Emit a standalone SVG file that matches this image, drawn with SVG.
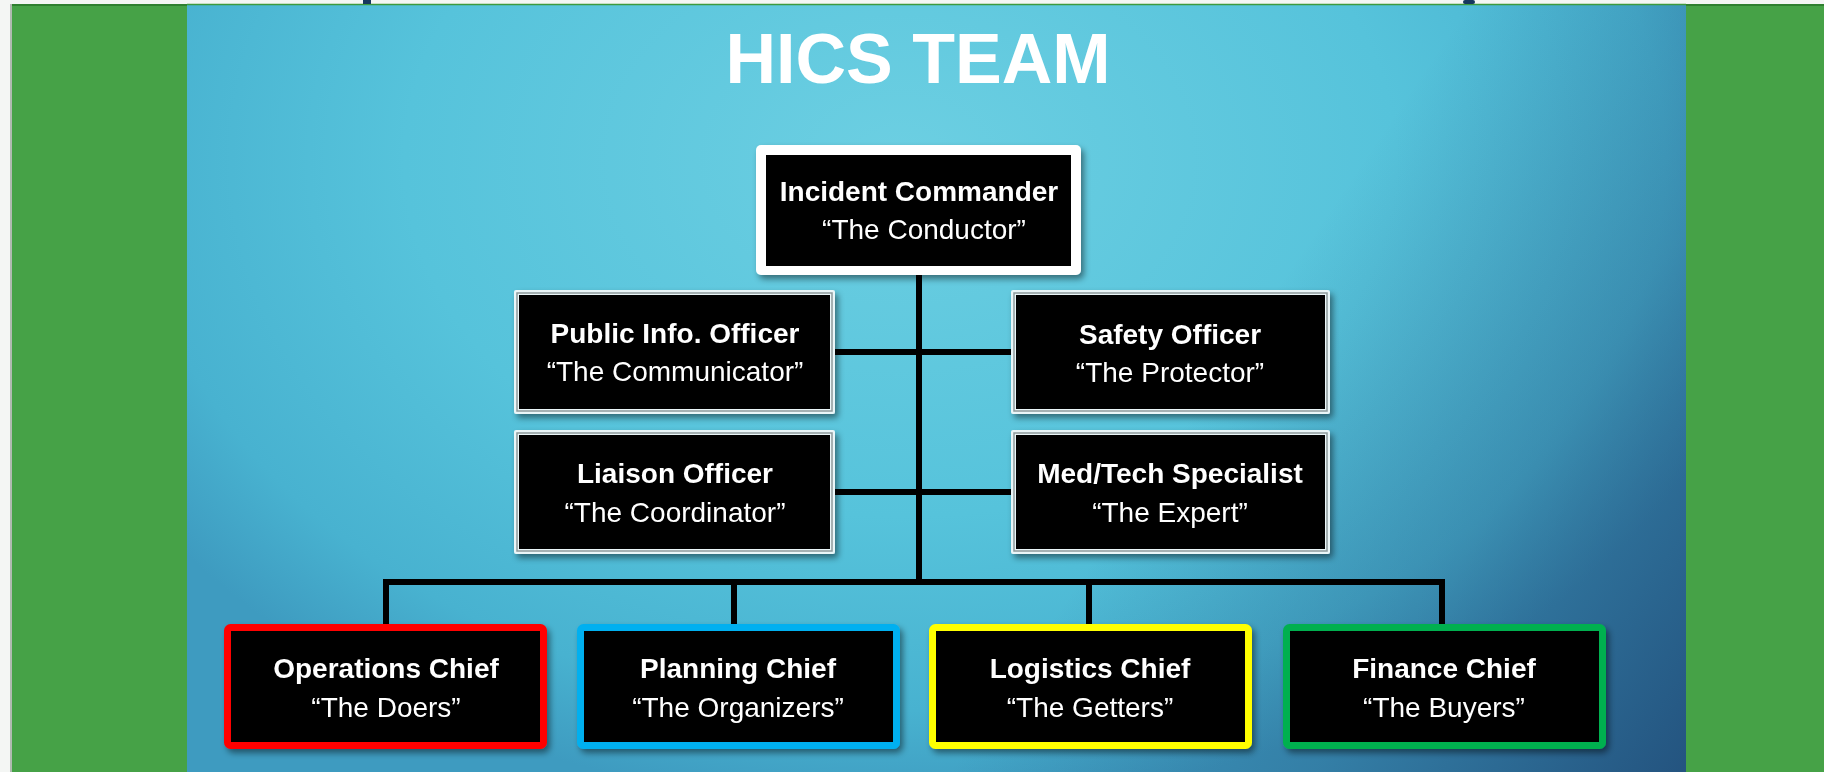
<svg xmlns="http://www.w3.org/2000/svg" width="1824" height="772" viewBox="0 0 1824 772">
  <defs>
    <radialGradient id="panelGlow" gradientUnits="userSpaceOnUse" cx="900" cy="160" r="900" gradientTransform="translate(900 160) scale(1 0.72) translate(-900 -160)">
      <stop offset="0" stop-color="#6CCFE2"/>
      <stop offset="0.55" stop-color="#56C3DB"/>
      <stop offset="0.85" stop-color="#48B2D0"/>
      <stop offset="1" stop-color="#3E9BC0"/>
    </radialGradient>
    <linearGradient id="panelShade" gradientUnits="userSpaceOnUse" x1="1180" y1="430" x2="1686" y2="772">
      <stop offset="0" stop-color="#1B3C6A" stop-opacity="0"/>
      <stop offset="0.5" stop-color="#1B3C6A" stop-opacity="0.3"/>
      <stop offset="1" stop-color="#1B3C6A" stop-opacity="0.75"/>
    </linearGradient>
    <filter id="shadow" x="-10%" y="-10%" width="125%" height="130%">
      <feDropShadow dx="3" dy="4" stdDeviation="3" flood-color="#000" flood-opacity="0.45"/>
    </filter>
  </defs>
  <style>
    .title { font-family: "Liberation Sans", Arial, sans-serif; font-weight: bold; font-size: 70px; fill: #FFFFFF; text-anchor: middle; }
    .name { font-family: "Liberation Sans", Arial, sans-serif; font-weight: bold; font-size: 28px; fill: #FFFFFF; text-anchor: middle; }
    .nick { font-family: "Liberation Sans", Arial, sans-serif; font-size: 28px; fill: #FFFFFF; text-anchor: middle; }
    .wire { fill: none; stroke: #000000; stroke-width: 6; stroke-linecap: square; stroke-linejoin: miter; }
    .body { fill: #000000; }
    .bevel-out { fill: #EAF6F8; }
    .bevel-mid { fill: none; stroke: #8E9A9C; stroke-width: 1.5; }
    .chief { stroke-width: 7; }
  </style>

  <!-- page and side bands -->
  <rect x="0" y="0" width="1824" height="772" fill="#F4F6F4"/>
  <rect x="12" y="4" width="1812" height="768" fill="#46A247"/>
  <line x1="11" y1="4" x2="11" y2="772" stroke="#9AA69A" stroke-width="1.5"/>
  <rect x="12" y="4" width="1812" height="2" fill="#2F8030"/>

  <!-- slide panel -->
  <rect x="187" y="5" width="1499" height="767" fill="url(#panelGlow)"/>
  <rect x="187" y="5" width="1499" height="767" fill="url(#panelShade)"/>
  <line x1="187" y1="4.5" x2="1686" y2="4.5" stroke="#3C9A3E" stroke-width="1.5"/>

  <!-- stubs of the heading strokes at the top edge -->
  <rect x="363" y="0" width="8" height="4" fill="#17375E"/>
  <rect x="1463" y="0" width="12" height="4" rx="2" fill="#17375E"/>

  <text class="title" x="918" y="83">HICS TEAM</text>

  <!-- connectors -->
  <g id="connectors">
    <line class="wire" x1="919" y1="266" x2="919" y2="582"/>
    <line class="wire" x1="835" y1="352" x2="1011" y2="352"/>
    <line class="wire" x1="835" y1="492" x2="1011" y2="492"/>
    <polyline class="wire" points="386,624 386,582 1442,582 1442,624"/>
    <line class="wire" x1="734" y1="582" x2="734" y2="624"/>
    <line class="wire" x1="1089" y1="582" x2="1089" y2="624"/>
  </g>

  <!-- incident commander -->
  <g id="commander" filter="url(#shadow)">
    <rect x="756" y="145" width="325" height="130" rx="5" fill="#FFFFFF"/>
    <rect x="766" y="155" width="305" height="111" class="body"/>
    <text class="name" x="919" y="201">Incident Commander</text>
    <text class="nick" x="924" y="239">“The Conductor”</text>
  </g>

  <!-- command staff -->
  <g id="public-info" filter="url(#shadow)">
    <rect x="514" y="290" width="321" height="124" rx="2" class="bevel-out"/>
    <rect x="517" y="293" width="315" height="118" class="bevel-mid"/>
    <rect x="519" y="295" width="311" height="114" class="body"/>
    <text class="name" x="675" y="343">Public Info. Officer</text>
    <text class="nick" x="675" y="381">“The Communicator”</text>
  </g>

  <g id="safety" filter="url(#shadow)">
    <rect x="1011" y="290" width="319" height="124" rx="2" class="bevel-out"/>
    <rect x="1014" y="293" width="313" height="118" class="bevel-mid"/>
    <rect x="1016" y="295" width="309" height="114" class="body"/>
    <text class="name" x="1170" y="344">Safety Officer</text>
    <text class="nick" x="1170" y="382">“The Protector”</text>
  </g>

  <g id="liaison" filter="url(#shadow)">
    <rect x="514" y="430" width="321" height="124" rx="2" class="bevel-out"/>
    <rect x="517" y="433" width="315" height="118" class="bevel-mid"/>
    <rect x="519" y="435" width="311" height="114" class="body"/>
    <text class="name" x="675" y="483">Liaison Officer</text>
    <text class="nick" x="675" y="522">“The Coordinator”</text>
  </g>

  <g id="med-tech" filter="url(#shadow)">
    <rect x="1011" y="430" width="319" height="124" rx="2" class="bevel-out"/>
    <rect x="1014" y="433" width="313" height="118" class="bevel-mid"/>
    <rect x="1016" y="435" width="309" height="114" class="body"/>
    <text class="name" x="1170" y="483">Med/Tech Specialist</text>
    <text class="nick" x="1170" y="522">“The Expert”</text>
  </g>

  <!-- section chiefs -->
  <g id="operations" filter="url(#shadow)">
    <rect x="227.5" y="627.5" width="316" height="118" rx="3" class="body chief" stroke="#FF0000"/>
    <text class="name" x="386" y="678">Operations Chief</text>
    <text class="nick" x="386" y="717">“The Doers”</text>
  </g>

  <g id="planning" filter="url(#shadow)">
    <rect x="580.5" y="627.5" width="316" height="118" rx="3" class="body chief" stroke="#00B0F0"/>
    <text class="name" x="738" y="678">Planning Chief</text>
    <text class="nick" x="738" y="717">“The Organizers”</text>
  </g>

  <g id="logistics" filter="url(#shadow)">
    <rect x="932.5" y="627.5" width="316" height="118" rx="3" class="body chief" stroke="#FFFF00"/>
    <text class="name" x="1090" y="678">Logistics Chief</text>
    <text class="nick" x="1090" y="717">“The Getters”</text>
  </g>

  <g id="finance" filter="url(#shadow)">
    <rect x="1286.5" y="627.5" width="316" height="118" rx="3" class="body chief" stroke="#00B050"/>
    <text class="name" x="1444" y="678">Finance Chief</text>
    <text class="nick" x="1444" y="717">“The Buyers”</text>
  </g>
</svg>
